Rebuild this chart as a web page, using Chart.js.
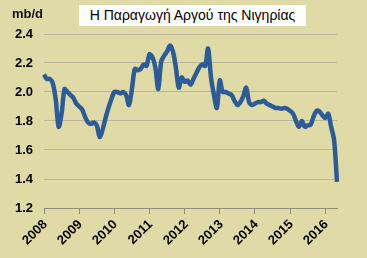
<!DOCTYPE html>
<html>
<head>
<meta charset="utf-8">
<script src="https://cdn.jsdelivr.net/npm/chart.js@4/dist/chart.umd.min.js"></script>
<style>
  html, body { margin: 0; padding: 0; background: #DFDAA6; }
  #wrap { position: relative; width: 367px; height: 258px; overflow: hidden; }
  #unit { position: absolute; left: 12px; top: 6px; font: bold 13px "Liberation Sans", Arial, sans-serif; color: #111; }
  #title { position: absolute; left: 79px; top: 5px; width: 227px; height: 21px; background: #fff;
           font: 14px "Liberation Sans", Arial, sans-serif; color: #000; text-align: center; line-height: 21px; }
  .yr { position: absolute; font: bold 13px "Liberation Sans", Arial, sans-serif; color: #000;
        line-height: 14px; white-space: nowrap; transform-origin: 100% 50%; transform: rotate(-45deg); }
</style>
</head>
<body>
<div id="wrap">
  <canvas id="chart" width="367" height="258"></canvas>
  <div id="unit">mb/d</div>
  <div id="title">Η Παραγωγή Αργού της Νιγηρίας</div>
</div>
<script>
// ── data ──
const years = [2008, 2009, 2010, 2011, 2012, 2013, 2014, 2015, 2016];
const yTicks = [1.2, 1.4, 1.6, 1.8, 2.0, 2.2, 2.4];

// monthly production, Jan 2008 .. May 2016 (mb/d)
const production = [
  2.12, 2.09, 2.09, 2.06, 1.95, 1.76, 1.85, 2.02, 2.00, 1.98, 1.96, 1.92,   // 2008
  1.90, 1.88, 1.83, 1.79, 1.78, 1.79, 1.77, 1.69, 1.74, 1.82, 1.89, 1.95,   // 2009
  2.00, 2.00, 1.99, 2.00, 1.98, 1.91, 2.02, 2.16, 2.15, 2.16, 2.19, 2.18,   // 2010
  2.26, 2.24, 2.17, 2.02, 2.21, 2.25, 2.28, 2.32, 2.28, 2.17, 2.03, 2.10,   // 2011
  2.07, 2.08, 2.05, 2.09, 2.13, 2.17, 2.19, 2.18, 2.30, 2.10, 1.98, 1.89,   // 2012
  2.08, 2.00, 2.00, 1.99, 1.98, 1.94, 1.91, 1.93, 1.97, 2.03, 1.93, 1.91,   // 2013
  1.92, 1.93, 1.93, 1.94, 1.92, 1.91, 1.90, 1.89, 1.89, 1.885, 1.89, 1.885, // 2014
  1.87, 1.85, 1.80, 1.76, 1.80, 1.76, 1.77, 1.775, 1.83, 1.87, 1.865, 1.84, // 2015
  1.82, 1.85, 1.76, 1.67, 1.38                                              // 2016
];

const labels = production.map((_, i) => (years[0] + Math.floor(i / 12)) + '-' + String(i % 12 + 1).padStart(2, '0'));

const FONT = '"Liberation Sans", Arial, sans-serif';

const chart = new Chart(document.getElementById('chart'), {
  type: 'line',
  data: {
    labels,
    datasets: [{
      data: production,
      borderColor: '#2C5C98',
      borderWidth: 4.5,
      pointRadius: 0,
      tension: 0.3,
      fill: false,
    }]
  },
  options: {
    responsive: false,
    animation: false,
    layout: { padding: { top: 34, right: 30, left: 0, bottom: 0 } },
    plugins: { legend: { display: false }, tooltip: { enabled: false } },
    scales: {
      x: {
        type: 'category',
        offset: false,
        grid: { drawOnChartArea: false, drawTicks: true, tickLength: 6, color: '#8E8C78' },
        border: { display: true, color: '#8E8C78', width: 1 },
        ticks: {
          autoSkip: false,
          maxRotation: 0,
          padding: 0,
          font: { family: FONT, size: 13, weight: 'bold' },
          callback: (v, i) => (i % 12 === 0 ? '' : null)
        },
        afterFit: s => { s.height = 50; }
      },
      y: {
        min: yTicks[0],
        max: yTicks[yTicks.length - 1],
        afterBuildTicks: s => { s.ticks = yTicks.map(v => ({ value: v })); },
        grid: { color: '#BAB79E', drawTicks: false },
        border: { display: false },
        ticks: {
          padding: 11,
          color: '#000',
          font: { family: FONT, size: 13, weight: 'bold' },
          callback: v => v.toFixed(1)
        },
        afterFit: s => { s.width = 44; }
      }
    }
  }
});

// year labels at 45°, placed under each January tick of the x scale
const xs = chart.scales.x;
const wrap = document.getElementById('wrap');
years.forEach((yr, k) => {
  const px = xs.getPixelForValue(k * 12);
  const el = document.createElement('div');
  el.className = 'yr';
  el.textContent = yr;
  el.style.right = (367 - (px + 1)) + 'px';
  el.style.top = (xs.top + 14 - 7) + 'px';
  wrap.appendChild(el);
});
</script>
</body>
</html>
